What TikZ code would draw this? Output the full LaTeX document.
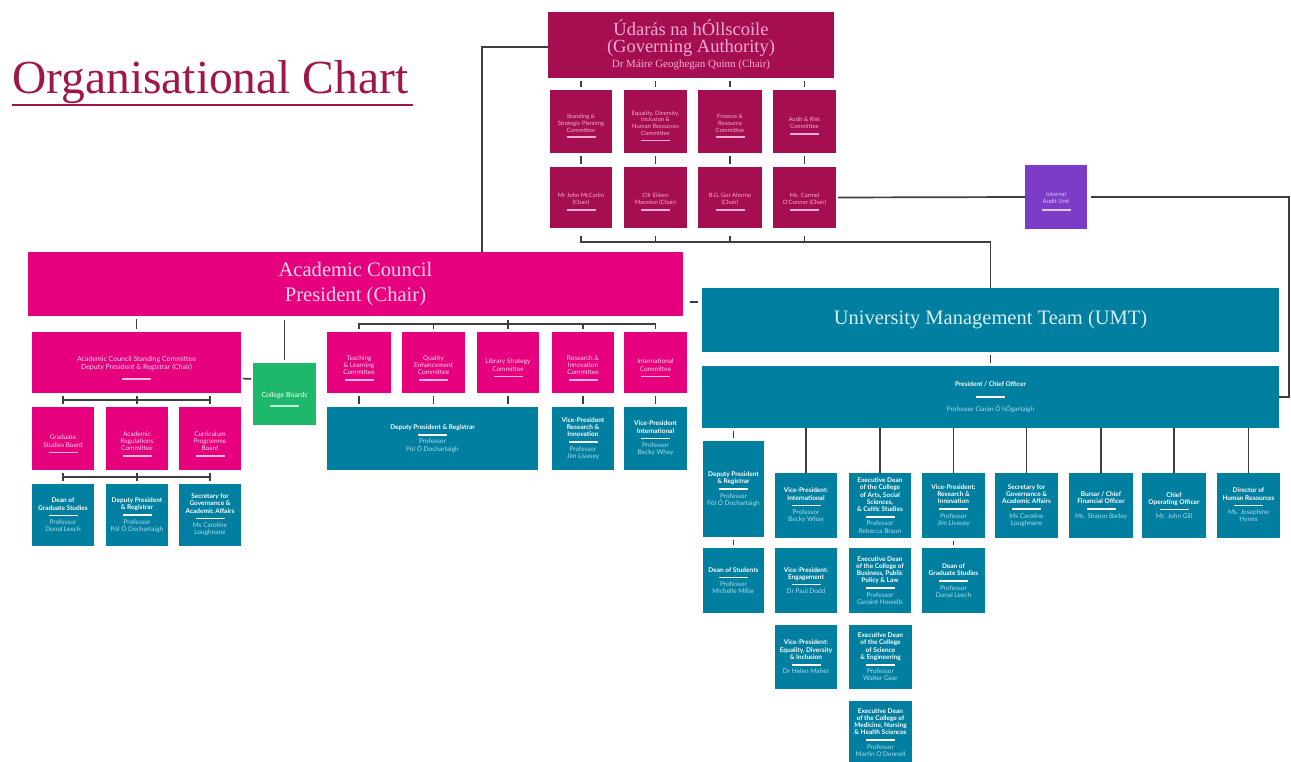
\documentclass[tikz,border=0pt]{standalone}
\usepackage{fontspec}
\newfontfamily\boxfnt{Lato}
\newfontfamily\hdfont{Liberation Serif}
\usetikzlibrary{calc}
\definecolor{govc}{RGB}{166,14,82}
\definecolor{govt}{RGB}{245,172,206}
\definecolor{acadc}{RGB}{230,0,126}
\definecolor{acadt}{RGB}{255,214,234}
\definecolor{acadbar}{RGB}{255,186,220}
\definecolor{umtc}{RGB}{0,127,160}
\definecolor{umtt}{RGB}{172,222,236}
\definecolor{umtbt}{RGB}{215,240,248}
\definecolor{cbc}{RGB}{30,184,108}
\definecolor{cbbar}{RGB}{190,245,215}
\definecolor{auditc}{RGB}{125,60,200}
\definecolor{auditbar}{RGB}{220,200,245}
\definecolor{linec}{RGB}{62,62,62}
\definecolor{titlec}{RGB}{160,22,72}
\newcommand{\mybar}[1]{{\color{#1}\rule[1pt]{29pt}{1.6pt}}}
\newcommand{\tealbox}[2]{{\bfseries #1}\\\mybar{white}\\{\color{umtt}#2}}
\newcommand{\mkbox}[7]{%
  \pgfmathsetmacro\bxw{(#5)-(#3)}%
  \pgfmathsetmacro\bxh{(#6)-(#4)}%
  \pgfmathsetmacro\bxtw{(#5)-(#3)-1}%
  \node[#2, minimum width=\bxw pt, minimum height=\bxh pt, text width=\bxtw pt] (#1) at ({((#3)+(#5))/2},{((#4)+(#6))/2}) {#7};}
\tikzset{
  base/.style={inner sep=0pt, outer sep=0pt, align=flush center, font=\boxfnt\fontsize{6.5}{7.2}\selectfont},
  gov/.style={base, fill=govc, text=govt, font=\boxfnt\fontsize{5.9}{6.8}\selectfont, execute at begin node={\rule{0pt}{14.5pt}}},
  acad/.style={base, fill=acadc, text=acadt, execute at begin node={\rule{0pt}{17pt}}},
  umtb/.style={base, fill=umtc, text=white},
  cbox/.style={base, fill=cbc, text=white, font=\boxfnt\fontsize{7}{8}\selectfont, execute at begin node={\rule{0pt}{17pt}}},
  audb/.style={base, fill=auditc, text=auditbar, font=\boxfnt\fontsize{5.9}{6.8}\selectfont, execute at begin node={\rule{0pt}{14.5pt}}},
  govbig/.style={inner sep=0pt, outer sep=0pt, align=flush center, fill=govc, text=govt, font=\hdfont\fontsize{18.5}{17}\selectfont},
  acbig/.style={inner sep=0pt, outer sep=0pt, align=flush center, fill=acadc, text=acadt, font=\hdfont\fontsize{20.6}{25}\selectfont},
  umtbig/.style={inner sep=0pt, outer sep=0pt, align=flush center, fill=umtc, text=umtbt, font=\hdfont\fontsize{20.5}{22}\selectfont},
  conn/.style={draw=linec, line width=1.7pt},
  tk/.style={conn, shorten <=3pt, shorten >=3pt},
}
\begin{document}
\begin{tikzpicture}[x=1pt,y=-1pt]
\useasboundingbox (0,0) rectangle (1291,762);
\fill[white] (0,0) rectangle (1291,762);

% title
\node[font=\hdfont\fontsize{47.5}{47.5}\selectfont, text=titlec, anchor=base west, inner sep=0pt] (title) at (12,94) {Organisational Chart};
\draw[titlec, line width=1.3pt] ($(title.base west)+(0,11)$) -- ($(title.base east)+(4,11)$);

% governing authority
\mkbox{gov}{govbig}{548}{12}{834}{78}{Údarás na hÓllscoile\\(Governing Authority)\par{\fontsize{11}{15}\selectfont Dr Máire Geoghegan Quinn (Chair)\par}}
\mkbox{g1}{gov}{550}{90}{612}{153}{Standing \&\\Strategic Planning\\Committee\\\mybar{govt}}
\mkbox{g2}{gov}{624}{90}{687}{153}{Equality, Diversity,\\Inclusion \&\\Human Resources\\Committee\\\mybar{govt}}
\mkbox{g3}{gov}{698}{90}{762}{153}{Finance \&\\Resource\\Committee\\\mybar{govt}}
\mkbox{g4}{gov}{773}{90}{836}{153}{Audit \& Risk\\Committee\\\mybar{govt}}
\mkbox{h1}{gov}{550}{167}{612}{228}{Mr John McCarlin\\(Chair)\\\mybar{govt}}
\mkbox{h2}{gov}{624}{167}{687}{228}{Cllr Eileen\\Mannion (Chair)\\\mybar{govt}}
\mkbox{h3}{gov}{698}{167}{762}{228}{B.G. Ger Aherne\\(Chair)\\\mybar{govt}}
\mkbox{h4}{gov}{773}{167}{836}{228}{Ms. Carmel\\O'Connor (Chair)\\\mybar{govt}}
\mkbox{audit}{audb}{1025}{165}{1087}{229}{Internal\\Audit Unit\\[1pt]\mybar{auditbar}}

% academic council
\mkbox{ac}{acbig}{28}{252}{683}{316}{Academic Council\\President (Chair)}
\mkbox{sc}{acad}{32}{332}{241}{393}{{\fontsize{7}{8}\selectfont Academic Council Standing Committee\\Deputy President \& Registrar (Chair)\par}\vspace{4pt}\mybar{acadbar}}
\mkbox{cb}{cbox}{253}{363}{316}{425}{College Boards\\[2pt]\mybar{cbbar}}
\mkbox{m1}{acad}{32}{407}{94}{470}{Graduate\\Studies Board\\\mybar{acadbar}}
\mkbox{m2}{acad}{106}{407}{168}{470}{Academic\\Regulations\\Committee\\\mybar{acadbar}}
\mkbox{m3}{acad}{179}{407}{241}{470}{Curriculum\\Programme\\Board\\\mybar{acadbar}}
\mkbox{l1}{umtb}{32}{484}{94}{546}{\tealbox{Dean of\\Graduate Studies}{Professor\\Donal Leech}}
\mkbox{l2}{umtb}{106}{484}{168}{546}{\tealbox{Deputy President\\\& Registrar}{Professor\\Pól Ó Dochartaigh}}
\mkbox{l3}{umtb}{179}{484}{241}{546}{\tealbox{Secretary for\\Governance \&\\Academic Affairs}{Ms Caroline\\Loughnane}}

\mkbox{t1}{acad}{327}{332}{391}{393}{Teaching\\\& Learning\\Committee\\\mybar{acadbar}}
\mkbox{t2}{acad}{402}{332}{465}{393}{Quality\\Enhancement\\Committee\\\mybar{acadbar}}
\mkbox{t3}{acad}{477}{332}{539}{393}{Library Strategy\\Committee\\\mybar{acadbar}}
\mkbox{t4}{acad}{552}{332}{614}{393}{Research \&\\Innovation\\Committee\\\mybar{acadbar}}
\mkbox{t5}{acad}{624}{332}{687}{393}{International\\Committee\\\mybar{acadbar}}
\mkbox{dpr}{umtb}{327}{407}{538}{470}{\tealbox{Deputy President \& Registrar}{Professor\\Pól Ó Dochartaigh}}
\mkbox{vpr}{umtb}{552}{407}{614}{470}{\tealbox{Vice-President\\Research \&\\Innovation}{Professor\\Jim Livesey}}
\mkbox{vpi}{umtb}{624}{407}{687}{470}{\tealbox{Vice-President\\International}{Professor\\Becky Whay}}

% UMT
\mkbox{umt}{umtbig}{702}{288}{1279}{352}{University Management Team (UMT)}
\mkbox{pres}{umtb}{702}{366}{1279}{428}{{\bfseries President / Chief Officer}\\[5pt]\mybar{white}\\[5pt]{\color{umtt}Professor Ciarán Ó hÓgartaigh}}
\mkbox{u1}{umtb}{703}{441}{764}{537}{\tealbox{Deputy President\\\& Registrar}{Professor\\Pól Ó Dochartaigh}}
\mkbox{u2}{umtb}{775}{473}{837}{538}{\tealbox{Vice-President:\\International}{Professor\\Becky Whay}}
\mkbox{u3}{umtb}{849}{473}{911}{538}{\tealbox{Executive Dean\\of the College\\of Arts, Social\\Sciences,\\\& Celtic Studies}{Professor\\Rebecca Braun}}
\mkbox{u4}{umtb}{922}{473}{985}{538}{\tealbox{Vice-President:\\Research \&\\Innovation}{Professor\\Jim Livesey}}
\mkbox{u5}{umtb}{995}{473}{1058}{538}{\tealbox{Secretary for\\Governance \&\\Academic Affairs}{Ms Caroline\\Loughnane}}
\mkbox{u6}{umtb}{1069}{473}{1133}{538}{\tealbox{Bursar / Chief\\Financial Officer}{Ms. Sharon Barley}}
\mkbox{u7}{umtb}{1142}{473}{1206}{538}{\tealbox{Chief\\Operating Officer}{Mr. John Gill}}
\mkbox{u8}{umtb}{1217}{473}{1280}{538}{\tealbox{Director of\\Human Resources}{Ms. Josephine\\Hynes}}
\mkbox{v1}{umtb}{703}{548}{764}{613}{\tealbox{Dean of Students}{Professor\\Michelle Millar}}
\mkbox{v2}{umtb}{775}{548}{837}{613}{\tealbox{Vice-President:\\Engagement}{Dr Paul Dodd}}
\mkbox{v3}{umtb}{849}{548}{911}{613}{\tealbox{Executive Dean\\of the College of\\Business, Public\\Policy \& Law}{Professor\\Geraint Howells}}
\mkbox{v4}{umtb}{922}{548}{985}{613}{\tealbox{Dean of\\Graduate Studies}{Professor\\Donal Leech}}
\mkbox{w2}{umtb}{775}{625}{837}{689}{\tealbox{Vice-President:\\Equality, Diversity\\\& Inclusion}{Dr Helen Maher}}
\mkbox{w3}{umtb}{849}{625}{912}{689}{\tealbox{Executive Dean\\of the College\\of Science\\\& Engineering}{Professor\\Walter Gear}}
\mkbox{x3}{umtb}{849}{701}{912}{764}{\tealbox{Executive Dean\\of the College of\\Medicine, Nursing\\\& Health Sciences}{Professor\\Martin O'Donnell}}

% connectors: governing
\draw[conn] ([xshift=126.5pt]ac.north) |- ([yshift=-2pt]gov.west);
\foreach \n in {g1,g2,g3,g4} \draw[tk] (gov.south -| \n.north) -- (\n.north);
\foreach \a/\b in {g1/h1,g2/h2,g3/h3,g4/h4} \draw[tk] (\a.south) -- (\b.north);
\draw[conn] ($(h1.south)+(0,8)$) -- ($(h1.south)+(0,14)$) -| (umt.north);
\foreach \n in {h2,h3,h4} \draw[conn] ($(\n.south)+(0,8)$) -- ($(\n.south)+(0,14)$);
\draw[conn, shorten <=2pt] (h4.east) -- (audit.west);
\draw[conn, shorten <=4pt] (audit.east) -- ++(202,0) |- (pres.east);

% connectors: academic council
\draw[conn, shorten <=7pt, shorten >=4pt] ($(ac.east)+(0,18)$) -- ($(umt.west)+(0,-18)$);
\draw[tk] (ac.south -| sc.north) -- (sc.north);
\draw[conn, shorten <=4pt, shorten >=3pt] (ac.south -| cb.north) -- (cb.north);
\draw[conn, shorten <=2pt, shorten >=2pt] ($(sc.east)+(0,16)$) -- ($(cb.west)+(0,-15)$);
\draw[conn] ($(m1.north)+(0,-7)$) -- ($(m3.north)+(0,-7)$);
\foreach \n in {m1,m2,m3} \draw[conn] ($(\n.north)+(0,-11)$) -- ($(\n.north)+(0,-3)$);
\draw[conn] ($(l1.north)+(0,-7)$) -- ($(l3.north)+(0,-7)$);
\foreach \n in {l1,l2,l3} \draw[conn] ($(\n.north)+(0,-11)$) -- ($(\n.north)+(0,-3)$);
\draw[conn] ($(t1.north)+(0,-3)$) |- ($(t5.north)+(0,-8)$) -- ($(t5.north)+(0,-3)$);
\draw[conn] ($(t3.north)+(0,-12)$) -- ($(t3.north)+(0,-3)$);
\foreach \n in {t2,t4} \draw[conn] ($(\n.north)+(0,-8)$) -- ($(\n.north)+(0,-3)$);
\foreach \n in {t1,t2,t3} \draw[tk] (\n.south) -- (\n.south |- dpr.north);
\draw[tk] (t4.south) -- (vpr.north);
\draw[tk] (t5.south) -- (vpi.north);

% connectors: UMT
\draw[tk] (umt.south) -- (pres.north);
\draw[tk] (pres.south -| u1.north) -- (u1.north);
\foreach \n in {u2,u3,u4,u5,u6,u7,u8} \draw[conn] (pres.south -| \n.north) -- (\n.north);
\draw[tk] (u1.south) -- (v1.north);
\draw[tk] (u4.south) -- (v4.north);
\end{tikzpicture}
\end{document}
